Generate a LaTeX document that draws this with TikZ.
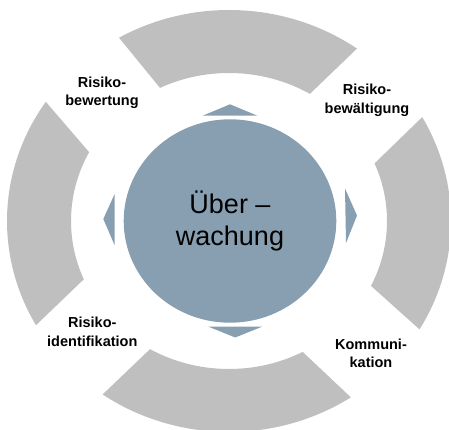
\documentclass[tikz,border=0pt]{standalone}
\usepackage{fontspec}
\setmainfont{Liberation Sans}
\usetikzlibrary{shapes.geometric}
\definecolor{ringgray}{RGB}{191,191,191}
\definecolor{hubblue}{RGB}{135,159,177}
\begin{document}
\begin{tikzpicture}[x=1pt,y=1pt,
    segment/.style={fill=ringgray,draw=none},
    pointer/.style={fill=hubblue,draw=none},
    hub/.style={ellipse,fill=hubblue,draw=none,inner sep=0pt,outer sep=0pt,
      minimum width=212.6pt,minimum height=203.4pt,align=center,
      font=\fontsize{27}{32.5}\selectfont},
    phase/.style={align=center,inner sep=0pt,
      font=\bfseries\fontsize{14.5}{18.5}\selectfont}]
      \useasboundingbox (0,0) rectangle (449,430);
      \begin{scope}[shift={(229,209)}]
        \fill[segment] (54.8:222 and 211)
          arc[start angle=54.8,end angle=119.7,x radius=222,y radius=211]
          -- (115.9:158 and 148)
          arc[start angle=115.9,end angle=59.2,x radius=158,y radius=148] -- cycle;
        \fill[segment] (145.6:222 and 211)
          arc[start angle=145.6,end angle=209.6,x radius=222,y radius=211]
          -- (203.2:158 and 148)
          arc[start angle=203.2,end angle=152.3,x radius=158,y radius=148] -- cycle;
        \fill[segment] (235.3:222 and 211)
          arc[start angle=235.3,end angle=303.3,x radius=222,y radius=211]
          -- (297.8:158 and 148)
          arc[start angle=297.8,end angle=240,x radius=158,y radius=148] -- cycle;
        \fill[segment] (-30.9:222 and 211)
          arc[start angle=-30.9,end angle=29.5,x radius=222,y radius=211]
          -- (22.9:158 and 148)
          arc[start angle=22.9,end angle=-26,x radius=158,y radius=148] -- cycle;
      \end{scope}
      \begin{scope}
        \fill[pointer] (202.7,314.3) -- (230,325.7) -- (257.3,314.3) -- cycle;
        \fill[pointer] (208.5,103.3) -- (235.2,92.5) -- (262,103.3) -- cycle;
        \fill[pointer] (114.5,235.7) -- (103.3,211) -- (114.5,185) -- cycle;
        \fill[pointer] (345,241.5) -- (357,214.5) -- (346,187) -- cycle;
      \end{scope}
      \node (hub) [hub] at (230,209) {Über –\\wachung};
      \node (bewertung) [phase] at (102,337.2) {Risiko-\\bewertung};
      \node (bewaeltigung) [phase] at (367,329.5) {Risiko-\\bewältigung};
      \node (identifikation) [phase] at (92.3,98) {Risiko-\\identifikation};
      \node (kommunikation) [phase] at (371,76.7) {Kommuni-\\kation};
    \end{tikzpicture}
\end{document}
